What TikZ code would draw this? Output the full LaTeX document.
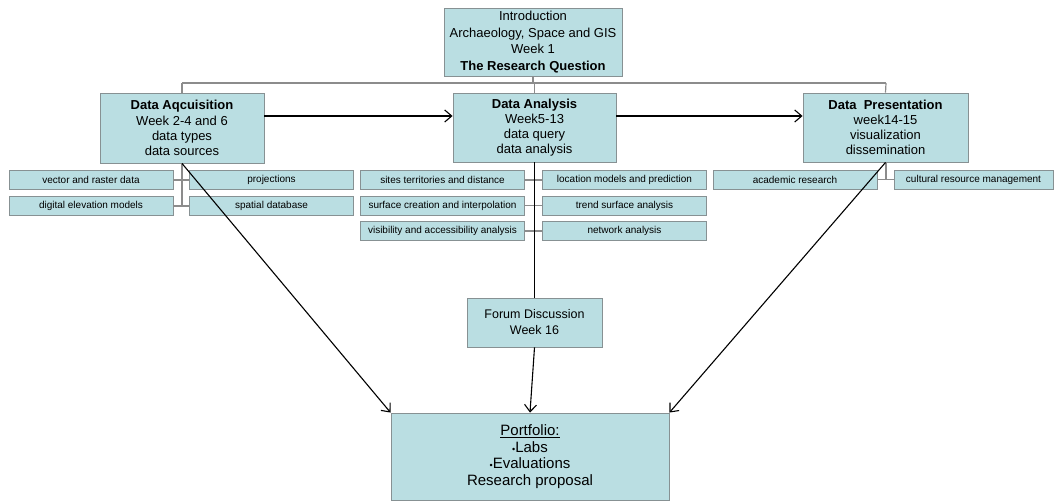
\documentclass[tikz,border=0pt]{standalone}
\usepackage{fontspec}
\setmainfont{Liberation Sans}
\usetikzlibrary{arrows.meta}
\definecolor{boxfill}{RGB}{186,222,226}
\definecolor{boxline}{RGB}{135,145,147}
\definecolor{linkgray}{RGB}{140,140,140}
\tikzset{
  mainbox/.style={draw=boxline, fill=boxfill, line width=0.9pt, inner sep=0pt, align=center, font=\fontsize{13}{16.5}\selectfont},
  midbox/.style={mainbox, font=\fontsize{13}{15.2}\selectfont},
  subbox/.style={draw=boxline, fill=boxfill, line width=0.9pt, inner sep=0pt, minimum width=164pt, minimum height=19pt, align=center, font=\fontsize{10}{11}\selectfont},
  graylink/.style={draw=linkgray, line width=1.2pt},
  blacklink/.style={draw=black, line width=1.1pt},
  arr/.style={blacklink, -{Straight Barb[length=7pt,width=12pt,line width=1.1pt]}}
}
\begin{document}
\begin{tikzpicture}[x=1pt,y=-1pt]
\useasboundingbox (0,0) rectangle (1054,502);
% main boxes
\node[mainbox, minimum width=178pt, minimum height=68pt] (intro) at (533,42) {Introduction\\Archaeology, Space and GIS\\Week 1\\\textbf{The Research Question}};
\node[midbox, minimum width=164pt, minimum height=70pt] (acq) at (182,128) {\textbf{Data Aqcuisition}\\Week 2-4 and 6\\data types\\data sources};
\node[midbox, minimum width=163pt, minimum height=69pt] (ana) at (534.5,127.5) {\textbf{Data Analysis}\\Week5-13\\data query\\data analysis};
\node[midbox, minimum width=165pt, minimum height=69pt] (pres) at (885.5,127.5) {\textbf{Data\ \ Presentation}\\week14-15\\visualization\\dissemination};
\node[mainbox, minimum width=135pt, minimum height=49pt, font=\fontsize{12.5}{16}\selectfont] (forum) at (534.5,322.5) {Forum Discussion\\Week 16};
\node[mainbox, minimum width=278pt, minimum height=87pt, font=\fontsize{15}{16.5}\selectfont] (port) at (530,456.5) {\underline{Portfolio:}\\{\fontsize{9}{10}\selectfont\textbullet}Labs\\{\fontsize{9}{10}\selectfont\textbullet}Evaluations\\Research proposal};
% sub boxes
\node[subbox] (vec) at (91,180) {vector and raster data};
\node[subbox] (proj) at (271.5,180) {projections};
\node[subbox] (dem) at (91,206) {digital elevation models};
\node[subbox] (sdb) at (271.5,206) {spatial database};
\node[subbox] (sites) at (442.5,180) {sites territories and distance};
\node[subbox] (loc) at (624.5,180) {location models and prediction};
\node[subbox] (surf) at (442.5,205.5) {surface creation and interpolation};
\node[subbox] (trend) at (624.5,205.5) {trend surface analysis};
\node[subbox] (vis) at (442.5,231) {visibility and accessibility analysis};
\node[subbox] (net) at (624.5,231) {network analysis};
\node[subbox] (acad) at (795,179.5) {academic research};
\node[subbox, minimum width=159pt] (crm) at (973.5,179.5) {cultural resource management};
% bus coordinates
\coordinate (busmid) at (533,83);
\coordinate (busL) at (182,83);
\coordinate (busR) at (886,83);
\coordinate (acqend) at (182,206);
\coordinate (presend) at (886,180);
% gray hierarchy lines
\draw[graylink] (intro.south) -- (busmid);
\draw[graylink] (busL) -- (busR);
\draw[graylink] (busL) -- (acq.north);
\draw[graylink] (busmid -| ana.north) -- (ana.north);
\draw[graylink] (busR) -- (pres.north);
\draw[graylink] (acq.south) -- (acqend);
\draw[graylink] (vec.east) -- (proj.west);
\draw[graylink] (dem.east) -- (sdb.west);
\draw[graylink] (sites.east) -- (loc.west);
\draw[graylink] (surf.east) -- (trend.west);
\draw[graylink] (vis.east) -- (net.west);
\draw[graylink] (pres.south -| presend) -- (presend);
\draw[graylink] (acad.east) -- (crm.west);
% black connectors
\draw[arr] (acq.east |- 0,116) -- (ana.west |- 0,116);
\draw[arr] (ana.east |- 0,116) -- (pres.west |- 0,116);
\draw[blacklink] (ana.south) -- (forum.north);
\draw[arr] (forum.south) -- (port.north);
\draw[arr] (acq.south) -- (port.north west);
\draw[arr] (pres.south) -- (port.north east);
\end{tikzpicture}
\end{document}
